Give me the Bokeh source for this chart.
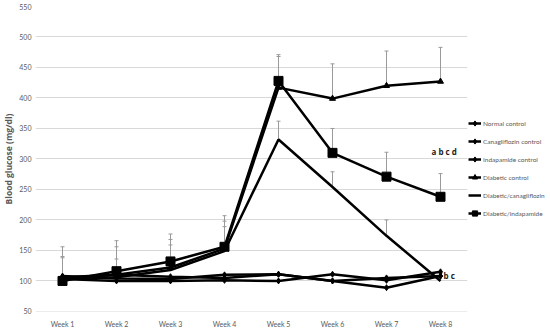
from bokeh.plotting import figure
from bokeh.models import (ColumnDataSource, FactorRange, Range1d, Legend, LegendItem,
                          Whisker, TeeHead, SingleIntervalTicker)
from bokeh.core.properties import value
from bokeh.embed import file_html
from bokeh.resources import INLINE

weeks = ["Week 1", "Week 2", "Week 3", "Week 4", "Week 5", "Week 6", "Week 7", "Week 8"]

normal_control = [108, 104, 103, 110, 111, 100, 105, 108]
cana_control = [103, 100, 100, 101, 100, 111, 101, 115]
inda_control = [106, 110, 107, 105, 111, 100, 89, 108]
diabetic_control = [105, 110, 122, 153, 417, 399, 420, 427]
diabetic_cana = [104, 106, 118, 149, 332, 254, 174, 100]
diabetic_inda = [100, 116, 132, 156, 428, 310, 271, 238]

# error bar tops (mean + SD)
diabetic_control_top = [156, 166, 177, 207, 471, 456, 477, 483]
diabetic_cana_top = [140, 156, 168, 198, 362, 279, 200, 112]
diabetic_inda_top = [138, 136, 159, 189, 468, 350, 311, 276]

series_names = ["Normal control", "Canagliflozin control", "Indapamide control",
                "Diabetic control", "Diabetic/canagliflozin", "Diabetic/indapamide"]
series_vals = [normal_control, cana_control, inda_control,
               diabetic_control, diabetic_cana, diabetic_inda]
markers = ["diamond", "diamond", "diamond", "triangle", None, "square"]
marker_sizes = [6, 6, 6, 6, 0, 9]

annot_text = ["a b c d", "b c"]
annot_y = [312, 109]
annot_dx = [-9, 3]

FONT = "Lato"
GREY = "#595959"

p = figure(frame_width=432, frame_height=305, x_range=FactorRange(*weeks, range_padding=0),
           y_range=Range1d(49.9, 550), output_backend="svg", toolbar_location=None,
           min_border_top=6, min_border_right=76, min_border_left=0, min_border_bottom=0)
p.outline_line_color = None
p.xgrid.grid_line_color = None
p.ygrid.grid_line_color = "#d9d9d9"
p.ygrid.grid_line_width = 1
p.yaxis.ticker = SingleIntervalTicker(interval=50)
for ax in (p.xaxis[0], p.yaxis[0]):
    ax.axis_line_color = None
    ax.major_tick_line_color = None
    ax.minor_tick_line_color = None
    ax.major_tick_out = 0
    ax.major_tick_in = 0
    ax.minor_tick_out = 0
    ax.major_label_text_font = FONT
    ax.major_label_text_font_size = "7px"
    ax.major_label_text_color = GREY
p.xaxis.major_label_standoff = 8
p.yaxis.major_label_standoff = 4
p.yaxis.axis_label = "Blood glucose (mg/dl)"
p.yaxis.axis_label_text_font = "Open Sans"
p.yaxis.axis_label_text_font_style = "bold"
p.yaxis.axis_label_text_font_size = "8.5px"
p.yaxis.axis_label_text_color = GREY
p.yaxis.axis_label_standoff = 2

# error bars
for vals, tops in [(diabetic_control, diabetic_control_top),
                   (diabetic_cana, diabetic_cana_top),
                   (diabetic_inda, diabetic_inda_top)]:
    src = ColumnDataSource(dict(x=weeks, lower=vals, upper=tops))
    w = Whisker(source=src, base="x", lower="lower", upper="upper",
                line_color="#9a9a9a", line_width=1,
                upper_head=TeeHead(size=4, line_color="#9a9a9a", line_width=1),
                lower_head=None)
    p.add_layout(w)

items = []
for name, vals, mk, ms in zip(series_names, series_vals, markers, marker_sizes):
    src = ColumnDataSource(dict(x=weeks, y=vals))
    rs = [p.line("x", "y", source=src, line_color="black", line_width=2.5)]
    if mk:
        rs.append(p.scatter("x", "y", source=src, marker=mk, size=ms,
                            fill_color="black", line_color="black"))
    items.append(LegendItem(label=name, renderers=rs))

legend = Legend(items=items, location=(1, 89), padding=0, spacing=0, margin=0,
                label_height=18, glyph_height=18, glyph_width=13, label_standoff=2,
                label_text_font=FONT, label_text_font_size="6.5px",
                label_text_color=GREY, border_line_alpha=0, background_fill_alpha=0)
p.add_layout(legend, "right")

for t, yv, dx in zip(annot_text, annot_y, annot_dx):
    p.text(x=["Week 8"], y=[yv], text=[t], x_offset=dx, text_align="left",
           text_baseline="middle", text_font=value("Open Sans"), text_font_style="bold",
           text_font_size="8px", text_color="#222222")

open("out.html", "w").write(file_html(p, INLINE))
